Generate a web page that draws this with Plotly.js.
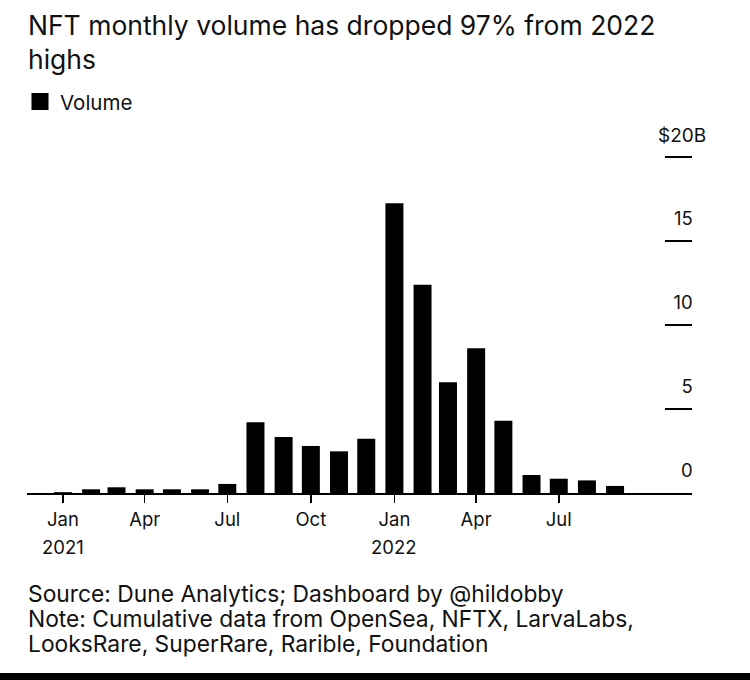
<!DOCTYPE html>
<html>
<head>
<meta charset="utf-8">
<script src="https://cdn.plot.ly/plotly-3.0.1.min.js"></script>
<style>
  html, body { margin: 0; padding: 0; background: #fff; }
  #wrap { position: relative; width: 750px; height: 680px; overflow: hidden; }
  #chart { width: 750px; height: 680px; }
  #bottombar { position: absolute; left: 0; top: 673px; width: 750px; height: 7px; background: #000; }
</style>
</head>
<body>
<div id="wrap">
  <div id="chart"></div>
  <div id="bottombar"></div>
</div>
<script>
// Monthly NFT trading volume, billions of US dollars
const months = [
  '2021-01-01','2021-02-01','2021-03-01','2021-04-01','2021-05-01','2021-06-01',
  '2021-07-01','2021-08-01','2021-09-01','2021-10-01','2021-11-01','2021-12-01',
  '2022-01-01','2022-02-01','2022-03-01','2022-04-01','2022-05-01','2022-06-01',
  '2022-07-01','2022-08-01','2022-09-01'
];
const volume = [
  0.05, 0.22, 0.34, 0.22, 0.22, 0.22,
  0.54, 4.21, 3.33, 2.80, 2.48, 3.23,
  17.24, 12.40, 6.59, 8.61, 4.30, 1.07,
  0.85, 0.75, 0.42
];
const xTickVals = ['2021-01-01','2021-04-01','2021-07-01','2021-10-01','2022-01-01','2022-04-01','2022-07-01'];
const xTickText = ['Jan','Apr','Jul','Oct','Jan','Apr','Jul'];
const yearTickVals = ['2021-01-01','2022-01-01'];
const yearTickText = ['2021','2022'];
const yTickVals = [0, 5, 10, 15, 20];
const yTickText = ['0', '5', '10', '15', '\u00A0'];
const yTopLabel = '$20B';          // unit label of the top tick, hangs past the axis
const yTopLabelValue = 20;
const titleText = 'NFT monthly volume has dropped 97% from 2022<br>highs';
const footerLines = [
  'Source: Dune Analytics; Dashboard by @hildobby',
  'Note: Cumulative data from OpenSea, NFTX, LarvaLabs,',
  'LooksRare, SuperRare, Rarible, Foundation'
];

const FONT = 'Inter, Liberation Sans, Arial, sans-serif';
const INK = '#111111';
const xRange = ['2020-11-22 10:00', '2022-11-24 17:00'];
const DAY = 86400000;
const TICKLEN = 27;

// plot area: left 27px, right 692px, value 0 at 493px, 16.8px per $1B
const LEFT = 27, RIGHT_PX = 692;
const TOP = 120, BOTTOM_PX = 493, PX_PER_UNIT = 16.8;
const plotH = BOTTOM_PX - TOP;
const plotW = RIGHT_PX - LEFT;
const yTop = plotH / PX_PER_UNIT;
function py(p) { return (BOTTOM_PX - p) / plotH; }   // pixel row -> paper y
function px(p) { return (p - LEFT) / plotW; }        // pixel column -> paper x

const trace = {
  type: 'bar',
  name: 'Volume',
  x: months,
  y: volume,
  width: 19.8 * DAY,
  marker: { color: '#000000' },
  showlegend: true,
  hoverinfo: 'x+y'
};

const annotations = [];
yearTickVals.forEach(function (v, i) {
  annotations.push({
    text: yearTickText[i], x: v, xref: 'x', xanchor: 'center',
    y: py(547), yref: 'paper', yanchor: 'middle',
    showarrow: false, font: { family: FONT, size: 18.5, color: INK }
  });
});
annotations.push({
  text: yTopLabel, x: px(656), xref: 'paper', xanchor: 'left',
  y: yTopLabelValue, yref: 'y', yanchor: 'middle', yshift: 22,
  showarrow: false, font: { family: FONT, size: 19, color: INK }
});
const footerY = [593, 618, 643];
footerLines.forEach(function (t, i) {
  annotations.push({
    text: t, xref: 'paper', x: px(26), xanchor: 'left',
    yref: 'paper', y: py(footerY[i]), yanchor: 'middle',
    align: 'left', showarrow: false,
    font: { family: FONT, size: 22.8, color: INK }
  });
});

// tick mark under the "$20B" unit label (same length as the axis ticks)
const shapes = [{
  type: 'line', xref: 'paper', yref: 'y', layer: 'above',
  x0: 1 - TICKLEN / plotW, x1: 1,
  y0: yTopLabelValue, y1: yTopLabelValue,
  line: { color: '#000000', width: 1.5 }
}];

const layout = {
  width: 750,
  height: 680,
  margin: { l: LEFT, r: 750 - RIGHT_PX, t: TOP, b: 680 - BOTTOM_PX, pad: 0 },
  paper_bgcolor: '#ffffff',
  plot_bgcolor: '#ffffff',
  font: { family: FONT, color: INK, size: 18 },
  title: {
    text: titleText,
    font: { family: FONT, size: 26.5, color: INK },
    xref: 'container', yref: 'container',
    x: 28 / 750, xanchor: 'left',
    y: 1 - 35 / 680, yanchor: 'top',
    pad: { t: 0, b: 0, l: 0, r: 0 }
  },
  showlegend: true,
  legend: {
    orientation: 'h',
    x: -7 / plotW, xanchor: 'left',
    y: py(101.7), yanchor: 'middle',
    font: { family: FONT, size: 20.5, color: INK },
    bgcolor: 'rgba(0,0,0,0)',
    borderwidth: 0
  },
  xaxis: {
    type: 'date',
    range: xRange,
    tickmode: 'array',
    tickvals: xTickVals,
    ticktext: xTickText,
    ticks: 'outside',
    ticklen: 8,
    tickwidth: 1.5,
    tickcolor: '#000000',
    ticklabelstandoff: 1,
    showline: true,
    linecolor: '#000000',
    linewidth: 2,
    showgrid: false,
    zeroline: false,
    tickfont: { family: FONT, size: 18.5, color: INK },
    fixedrange: true
  },
  yaxis: {
    side: 'right',
    range: [0, yTop],
    tickmode: 'array',
    tickvals: yTickVals,
    ticktext: yTickText,
    ticks: 'inside',
    ticklen: TICKLEN,
    tickwidth: 1.5,
    tickcolor: '#000000',
    ticklabelposition: 'inside',
    ticklabelshift: -22,
    ticklabelstandoff: -27,
    showline: false,
    showgrid: false,
    zeroline: false,
    tickfont: { family: FONT, size: 18.5, color: INK },
    fixedrange: true
  },
  shapes: shapes,
  annotations: annotations
};

Plotly.newPlot('chart', [trace], layout, { displayModeBar: false, staticPlot: true }).then(function () {
  document.querySelectorAll('#chart .legendpoints path').forEach(function (p) {
    p.setAttribute('d', 'M8.5,8.5H-8.5V-8.5H8.5Z');
  });
});
</script>
</body>
</html>
